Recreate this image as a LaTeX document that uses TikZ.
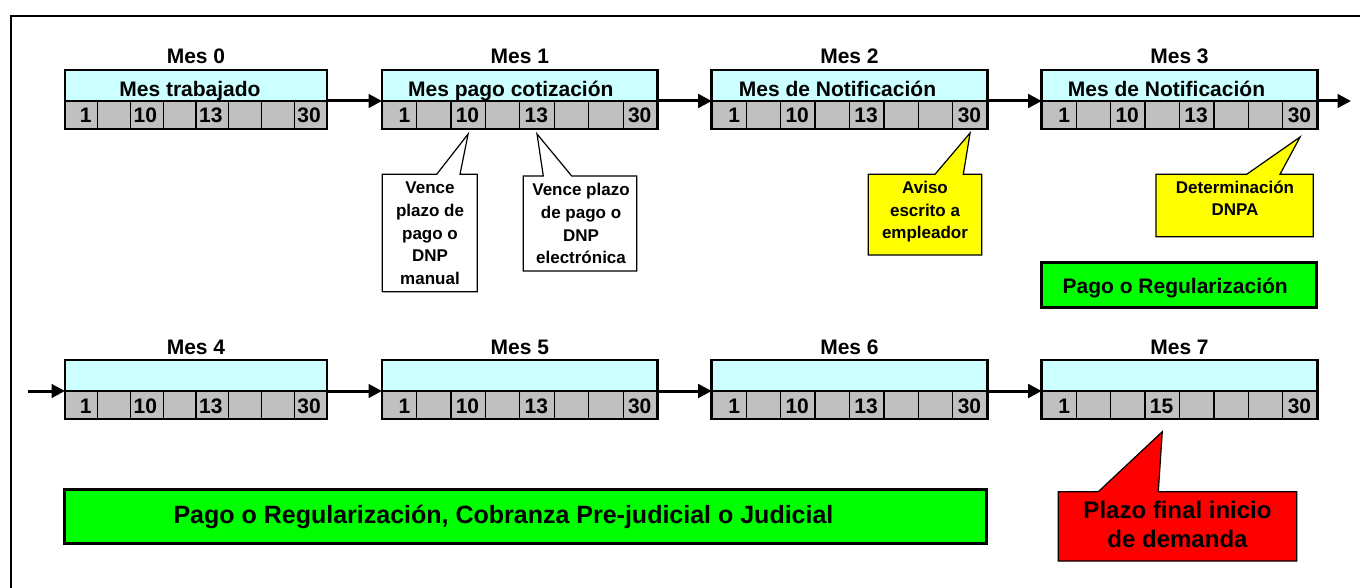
\documentclass[tikz,border=0pt]{standalone}
\usepackage{fontspec}
\setmainfont{Liberation Sans}
\usetikzlibrary{arrows.meta}

\definecolor{celeste}{HTML}{CCFFFF}
\definecolor{gris}{HTML}{C0C0C0}
\definecolor{verde}{HTML}{00FF00}
\definecolor{amarillo}{HTML}{FFFF00}
\definecolor{rojo}{HTML}{FF0000}

\tikzset{
  cabecera/.style={draw, line width=2pt, fill=celeste, minimum height=31pt,
    inner sep=0pt, outer sep=0pt, anchor=north west},
  celda/.style={draw, line width=1.2pt, fill=gris, minimum height=28pt,
    inner sep=0pt, outer sep=0pt, anchor=north west},
  borde/.style={line width=2.8pt},
  titulo/.style={font=\fontsize{21}{24}\selectfont\bfseries, anchor=base, inner sep=0pt},
  numero/.style={font=\fontsize{21}{24}\selectfont\bfseries, anchor=base east, inner sep=0pt},
  flecha/.style={line width=3pt, -{Triangle[length=13.5pt,width=13.5pt]}},
  globo/.style={line width=1.2pt, line join=miter},
  globotexto/.style={font=\fontsize{17}{22.6}\selectfont\bfseries, align=center, inner sep=0pt},
  barra/.style={draw, line width=2.8pt, fill=verde, inner sep=0pt, outer sep=0pt, anchor=north west},
}

% #1 nombre, #2 x, #3 y, #4 ancho, #5 titulo, #6 celda/numero
\newcommand{\mesbloque}[6]{%
  \pgfmathsetmacro{\anchocelda}{#4/8}
  \node[cabecera, minimum width=#4pt] (#1) at (#2,#3) {};
  \foreach \i in {0,...,7}
    \node[celda, minimum width=\anchocelda pt] (#1-\i) at ({#2+\i*\anchocelda},{#3+31}) {};
  \draw[borde] (#1.north west) rectangle (#1-7.south east);
  \node[titulo] at ([yshift=6pt]#1.north) {#5};
  \foreach \c/\n in {#6}
    \node[numero] at ([xshift=-6pt,yshift=6pt]#1-\c.south east) {\n};
}

\begin{document}
\begin{tikzpicture}[x=1pt, y=-1pt]
    \useasboundingbox (0,0) rectangle (1360,588);
    % marco
    \draw[line width=2.5pt] (1370,16) -- (11,16) -- (11,598);

    % primera fila
    \mesbloque{m0}{65}{70}{262}{Mes 0}{0/1,2/10,4/13,7/30}
    \mesbloque{m1}{382}{70}{275.6}{Mes 1}{0/1,2/10,4/13,7/30}
    \mesbloque{m2}{711.7}{70}{275.6}{Mes 2}{0/1,2/10,4/13,7/30}
    \mesbloque{m3}{1041.7}{70}{275.6}{Mes 3}{0/1,2/10,4/13,7/30}
    \node[titulo] at ([xshift=-6pt,yshift=4.3pt]m0.south) {Mes trabajado};
    \node[titulo] at ([xshift=-9pt,yshift=4.3pt]m1.south) {Mes pago cotización};
    \node[titulo] at ([xshift=-12pt,yshift=4.3pt]m2.south) {Mes de Notificación};
    \node[titulo] at ([xshift=-13pt,yshift=4.3pt]m3.south) {Mes de Notificación};
    \coordinate (fin3) at (1351,101);
    \draw[flecha] (m0.south east) -- (m1.south west);
    \draw[flecha] (m1.south east) -- (m2.south west);
    \draw[flecha] (m2.south east) -- (m3.south west);
    \draw[flecha] (m3.south east) -- (fin3);

    % segunda fila
    \mesbloque{m4}{65}{360}{262}{Mes 4}{0/1,2/10,4/13,7/30}
    \mesbloque{m5}{382}{360}{275.6}{Mes 5}{0/1,2/10,4/13,7/30}
    \mesbloque{m6}{711.7}{360}{275.6}{Mes 6}{0/1,2/10,4/13,7/30}
    \mesbloque{m7}{1041.7}{360}{275.6}{Mes 7}{0/1,3/15,7/30}
    \coordinate (ini4) at (28,391);
    \draw[flecha] (ini4) -- (m4.south west);
    \draw[flecha] (m4.south east) -- (m5.south west);
    \draw[flecha] (m5.south east) -- (m6.south west);
    \draw[flecha] (m6.south east) -- (m7.south west);

    % globos
    \draw[globo, fill=white] (382.3,174.3) -- (436.7,174.3) -- ([yshift=-5pt]m1-2.south)
      -- (460,174.3) -- (477.3,174.3) -- (477.3,291.7) -- (382.3,291.7) -- cycle;
    \node[globotexto] (manual) at (430,233.3) {Vence\\plazo de\\pago o\\DNP\\manual};
    \draw[globo, fill=white] (523.3,176) -- (543.3,176) -- ([yshift=-5pt]m1-4.south)
      -- (571.7,176) -- (636.7,176) -- (636.7,271) -- (523.3,271) -- cycle;
    \node[globotexto] (electronica) at (581,223.7) {Vence plazo\\de pago o\\DNP\\electrónica};
    \draw[globo, fill=amarillo] (868.3,174.3) -- (935,174.3) -- ([yshift=-4pt]m2-7.south)
      -- (963.3,174.3) -- (981.7,174.3) -- (981.7,255) -- (868.3,255) -- cycle;
    \node[globotexto] (aviso) at (925,212) {Aviso\\escrito a\\empleador};
    \draw[globo, fill=amarillo] (1156,174.3) -- (1246.7,174.3) -- ([yshift=-8pt]m3-7.south)
      -- (1280,174.3) -- (1313.3,174.3) -- (1313.3,236.7) -- (1156,236.7) -- cycle;
    \node[globotexto] (dnpa) at (1235,198.3) {Determinación\\DNPA};
    \draw[globo, fill=rojo] (1058.3,491.7) -- (1098.3,491.7) -- ([yshift=-12.7pt]m7-3.south)
      -- (1158.3,491.7) -- (1296.7,491.7) -- (1296.7,561) -- (1058.3,561) -- cycle;
    \node[globotexto, font=\fontsize{24}{29.5}\selectfont\bfseries] (plazo) at (1177.5,524.5)
      {Plazo final inicio\\de demanda};

    % barras verdes
    \node[barra, minimum width=275pt, minimum height=44.6pt] (pago) at (1041.7,262.7) {};
    \node[titulo] at ([xshift=-4pt,yshift=-8.3pt]pago.center) {Pago o Regularización};
    \node[barra, minimum width=922.4pt, minimum height=54pt] (cobranza) at (64.3,489.3) {};
    \node[titulo, font=\fontsize{25}{28}\selectfont\bfseries] at ([xshift=-22pt,yshift=-7pt]cobranza.center)
      {Pago o Regularización, Cobranza Pre-judicial o Judicial};
\end{tikzpicture}
\end{document}
